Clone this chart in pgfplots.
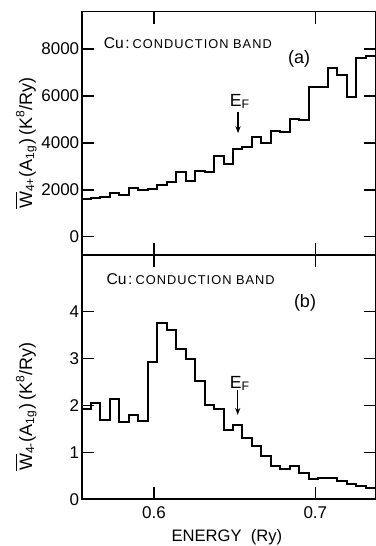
\documentclass[border=0pt]{standalone}
\usepackage{pgfplots}
\usepackage{pgfplotstable}
\pgfplotsset{compat=1.18}
\usepackage{fontspec}
\setmainfont{Liberation Sans}
\usetikzlibrary{arrows.meta}

\pgfplotstableread{
x y
0.55492 1620
0.56080 1640
0.56668 1700
0.57256 1860
0.57843 1790
0.58431 2070
0.59019 2010
0.59607 2020
0.60195 2200
0.60783 2350
0.61371 2750
0.61958 2370
0.62546 2810
0.63134 2760
0.63722 3430
0.64310 3100
0.64897 3750
0.65485 3840
0.66073 4230
0.66661 3980
0.67249 4490
0.67836 4460
0.68424 5000
0.69012 4975
0.69600 6400
0.70188 6400
0.70775 7205
0.71363 6900
0.71951 5940
0.72539 7600
0.73127 7710
0.73800 7710
}\topdata

\pgfplotstableread{
x y
0.55492 1.92
0.56080 2.06
0.56668 1.69
0.57256 2.13
0.57843 1.64
0.58431 1.80
0.59019 1.67
0.59607 2.92
0.60195 3.75
0.60783 3.61
0.61371 3.21
0.61958 3.00
0.62546 2.53
0.63134 2.01
0.63722 1.92
0.64310 1.47
0.64897 1.58
0.65485 1.30
0.66073 1.14
0.66661 0.93
0.67249 0.70
0.67836 0.64
0.68424 0.70
0.69012 0.56
0.69600 0.43
0.70188 0.46
0.70775 0.45
0.71363 0.40
0.71951 0.33
0.72539 0.29
0.73127 0.24
0.73800 0.24
}\botdata

\newcommand{\cuband}{{\fontsize{7.8}{9}\selectfont Cu\hspace{0.8pt}:\hspace{1.5pt}}{\fontsize{6.4}{7}\selectfont\addfontfeature{LetterSpace=8}CONDUCTION BAND}}

\begin{document}
\begin{tikzpicture}
\pgfplotsset{
  common/.style={
    scale only axis, width=147pt,
    xmin=0.5554, xmax=0.7376,
    xtick={0.6,0.7},
    tick align=inside, major tick length=6pt,
    line width=0.8pt,
    tick style={line width=0.8pt, black},
    tick label style={font=\fontsize{8.5}{10}\selectfont},
    /pgf/number format/assume math mode=true,
    /pgf/number format/1000 sep={},
    yticklabel style={inner sep=1pt},
    clip=true,
  }
}
\begin{axis}[common, name=bot, at={(0pt,0pt)}, anchor=south west,
  height=122.15pt, ymin=0, ymax=5.209,
  ytick={0,1,2,3,4},
  xlabel={ENERGY\ \ (Ry)},
  xlabel style={at={(rel axis cs:0.493,0)}, anchor=center, yshift=-18.85pt, font=\fontsize{8.3}{10}\selectfont},
  ylabel={\(\overline{\hbox{W}}\)\textsubscript{4-}(A\textsubscript{1g})\,(K\textsuperscript{8}/Ry)},
  ylabel style={at={(rel axis cs:-0.19,0.38)}, anchor=center, font=\fontsize{9}{11}\selectfont},
]
\addplot[const plot, black, line width=1pt] table {\botdata};
\node[anchor=base west, inner sep=0] at (axis cs:0.5702,4.59) {\cuband};
\node[anchor=center, inner sep=0, font=\fontsize{9}{11}\selectfont] at (axis cs:0.6936,4.18) {(b)};
\node[anchor=base, inner sep=0, font=\fontsize{8.8}{10}\selectfont] at (axis cs:0.6533,2.37) {E\textsubscript{F}};
\draw[line width=0.6pt, -{Stealth[length=3.5pt,width=2.6pt]}] (axis cs:0.6519,2.33) -- (axis cs:0.6519,1.80);
\end{axis}
\begin{axis}[common, name=top, at={(0pt,122.15pt)}, anchor=south west,
  height=121.65pt, ymin=-780, ymax=9590,
  ytick={0,2000,4000,6000,8000},
  xticklabels={},
  ylabel={\(\overline{\hbox{W}}\)\textsubscript{4+}(A\textsubscript{1g})\,(K\textsuperscript{8}/Ry)},
  ylabel style={at={(rel axis cs:-0.19,0.46)}, anchor=center, font=\fontsize{9}{11}\selectfont},
]
\addplot[const plot, black, line width=1pt] table {\topdata};
\node[anchor=base west, inner sep=0] at (axis cs:0.5684,8000) {\cuband};
\node[anchor=center, inner sep=0, font=\fontsize{9}{11}\selectfont] at (axis cs:0.6899,7600) {(a)};
\node[anchor=base, inner sep=0, font=\fontsize{8.8}{10}\selectfont] at (axis cs:0.6533,5570) {E\textsubscript{F}};
\draw[line width=0.6pt, -{Stealth[length=3.5pt,width=2.6pt]}] (axis cs:0.6521,5330) -- (axis cs:0.6521,4410);
\end{axis}
\pgfresetboundingbox
\useasboundingbox (-41pt,-23.35pt) rectangle (146.5pt,249.65pt);
\end{tikzpicture}
\end{document}
